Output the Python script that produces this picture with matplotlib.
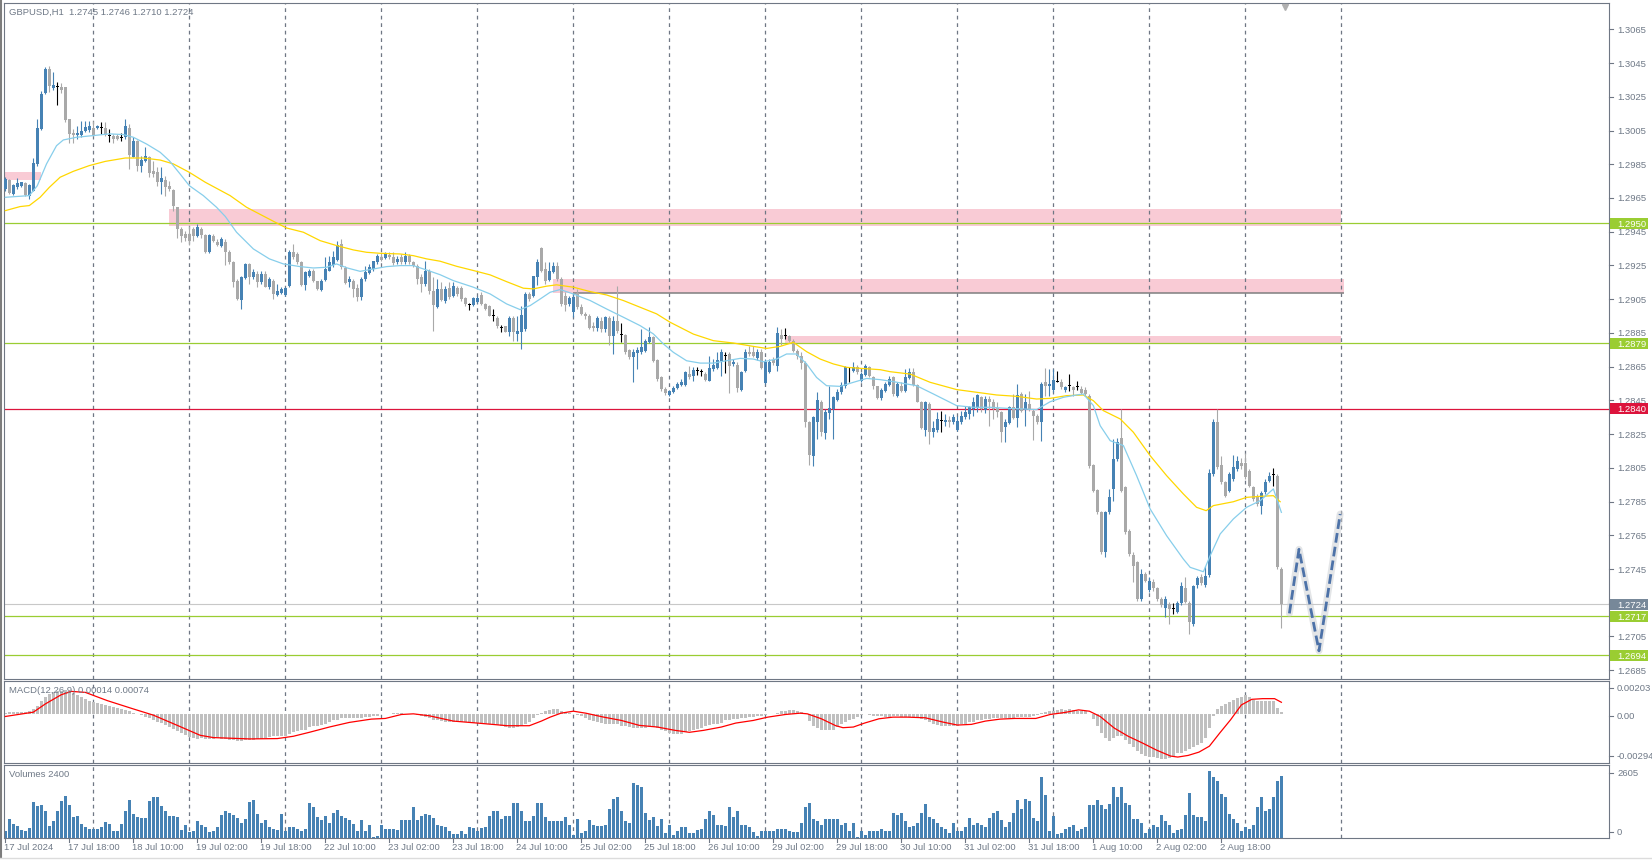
import matplotlib
matplotlib.use("Agg")
import matplotlib.pyplot as plt
import matplotlib.transforms as mtransforms
from matplotlib.patches import Rectangle
from matplotlib.lines import Line2D
import numpy as np

plt.rcParams['font.family'] = ['Liberation Sans', 'DejaVu Sans']

# GBPUSD H1, 17 Jul 2024 02:00 .. 5 Aug 2024 09:00 (320 bars).
opens = [
    1.29703, 1.29757, 1.29674, 1.29713, 1.29723, 1.29737, 1.29664, 1.29693, 1.29852, 1.30059,
    1.30271, 1.30415, 1.30302, 1.30306, 1.30306, 1.30306, 1.30119, 1.30037, 1.30026, 1.30026,
    1.30045, 1.30053, 1.30065, 1.30065, 1.30065, 1.30065, 1.30020, 1.30020, 1.30020, 1.30006,
    1.30010, 1.30065, 1.29895, 1.29990, 1.29840, 1.29868, 1.29891, 1.29812, 1.29802, 1.29747,
    1.29757, 1.29723, 1.29697, 1.29595, 1.29466, 1.29437, 1.29437, 1.29466, 1.29427, 1.29466,
    1.29433, 1.29328, 1.29427, 1.29387, 1.29368, 1.29387, 1.29328, 1.29269, 1.29156, 1.29045,
    1.29176, 1.29259, 1.29184, 1.29200, 1.29150, 1.29200, 1.29124, 1.29160, 1.29077, 1.29085,
    1.29077, 1.29130, 1.29328, 1.29318, 1.29269, 1.29136, 1.29190, 1.29219, 1.29156, 1.29105,
    1.29164, 1.29219, 1.29255, 1.29283, 1.29377, 1.29235, 1.29150, 1.29160, 1.29116, 1.29065,
    1.29170, 1.29205, 1.29229, 1.29269, 1.29302, 1.29295, 1.29312, 1.29302, 1.29269, 1.29298,
    1.29269, 1.29308, 1.29269, 1.29249, 1.29180, 1.29140, 1.29215, 1.29101, 1.29006, 1.29111,
    1.29037, 1.29116, 1.29067, 1.29115, 1.29115, 1.29055, 1.29016, 1.29016, 1.29036, 1.29075,
    1.29022, 1.29008, 1.28949, 1.28939, 1.28878, 1.28889, 1.28858, 1.28937, 1.28844, 1.28858,
    1.28874, 1.29081, 1.29067, 1.29180, 1.29352, 1.29229, 1.29166, 1.29214, 1.29249, 1.29170,
    1.29071, 1.29022, 1.28976, 1.29087, 1.29002, 1.28963, 1.28953, 1.28893, 1.28878, 1.28923,
    1.28874, 1.28937, 1.28834, 1.28923, 1.28838, 1.28838, 1.28751, 1.28706, 1.28731, 1.28739,
    1.28745, 1.28799, 1.28824, 1.28692, 1.28587, 1.28517, 1.28483, 1.28497, 1.28521, 1.28543,
    1.28541, 1.28606, 1.28592, 1.28626, 1.28620, 1.28606, 1.28567, 1.28636, 1.28642, 1.28685,
    1.28715, 1.28725, 1.28666, 1.28660, 1.28513, 1.28626, 1.28739, 1.28739, 1.28699, 1.28735,
    1.28553, 1.28620, 1.28691, 1.28656, 1.28837, 1.28830, 1.28830, 1.28804, 1.28745, 1.28715,
    1.28671, 1.28320, 1.28118, 1.28324, 1.28442, 1.28256, 1.28375, 1.28399, 1.28454, 1.28497,
    1.28533, 1.28640, 1.28626, 1.28646, 1.28567, 1.28600, 1.28646, 1.28586, 1.28533, 1.28462,
    1.28507, 1.28541, 1.28587, 1.28478, 1.28537, 1.28508, 1.28583, 1.28620, 1.28541, 1.28442,
    1.28276, 1.28429, 1.28264, 1.28276, 1.28330, 1.28320, 1.28335, 1.28324, 1.28276, 1.28320,
    1.28349, 1.28369, 1.28399, 1.28403, 1.28468, 1.28395, 1.28458, 1.28442, 1.28403, 1.28383,
    1.28290, 1.28316, 1.28409, 1.28347, 1.28488, 1.28395, 1.28429, 1.28389, 1.28355, 1.28320,
    1.28557, 1.28537, 1.28514, 1.28561, 1.28557, 1.28514, 1.28537, 1.28527, 1.28527, 1.28518,
    1.28514, 1.28478, 1.28067, 1.27920, 1.27786, 1.27549, 1.27786, 1.27925, 1.28102, 1.28225,
    1.27935, 1.27678, 1.27533, 1.27490, 1.27272, 1.27420, 1.27328, 1.27375, 1.27336, 1.27272,
    1.27221, 1.27243, 1.27213, 1.27197, 1.27249, 1.27336, 1.27249, 1.27124, 1.27355, 1.27401,
    1.27355, 1.27415, 1.28013, 1.28320, 1.28067, 1.27964, 1.27915, 1.27984, 1.28043, 1.28079,
    1.28079, 1.28033, 1.27935, 1.27885, 1.27826, 1.27905, 1.27974, 1.28008, 1.28004, 1.27450,
]
highs = [
    1.29773, 1.29763, 1.29733, 1.29769, 1.29747, 1.29743, 1.29733, 1.29885, 1.30119, 1.30283,
    1.30425, 1.30435, 1.30395, 1.30336, 1.30330, 1.30310, 1.30119, 1.30059, 1.30079, 1.30109,
    1.30109, 1.30109, 1.30109, 1.30085, 1.30101, 1.30099, 1.30059, 1.30030, 1.30030, 1.30033,
    1.30119, 1.30089, 1.30014, 1.29994, 1.29901, 1.29950, 1.29901, 1.29871, 1.29832, 1.29836,
    1.29782, 1.29753, 1.29703, 1.29595, 1.29476, 1.29456, 1.29486, 1.29476, 1.29496, 1.29480,
    1.29437, 1.29437, 1.29437, 1.29407, 1.29417, 1.29407, 1.29340, 1.29279, 1.29170, 1.29190,
    1.29265, 1.29265, 1.29229, 1.29219, 1.29219, 1.29219, 1.29180, 1.29170, 1.29140, 1.29120,
    1.29120, 1.29340, 1.29377, 1.29328, 1.29279, 1.29219, 1.29229, 1.29229, 1.29160, 1.29170,
    1.29302, 1.29308, 1.29338, 1.29397, 1.29407, 1.29245, 1.29190, 1.29170, 1.29140, 1.29180,
    1.29249, 1.29259, 1.29279, 1.29318, 1.29328, 1.29328, 1.29328, 1.29328, 1.29308, 1.29318,
    1.29328, 1.29318, 1.29279, 1.29259, 1.29200, 1.29279, 1.29229, 1.29180, 1.29170, 1.29150,
    1.29130, 1.29150, 1.29150, 1.29130, 1.29130, 1.29061, 1.29028, 1.29061, 1.29071, 1.29091,
    1.29028, 1.29016, 1.28992, 1.28949, 1.28897, 1.28893, 1.28949, 1.28949, 1.28953, 1.29008,
    1.29091, 1.29091, 1.29190, 1.29289, 1.29358, 1.29269, 1.29269, 1.29269, 1.29269, 1.29180,
    1.29095, 1.29071, 1.29081, 1.29111, 1.29022, 1.28973, 1.28963, 1.28913, 1.28953, 1.28943,
    1.28953, 1.28953, 1.28953, 1.29130, 1.28909, 1.28844, 1.28755, 1.28755, 1.28765, 1.28873,
    1.28815, 1.28884, 1.28834, 1.28696, 1.28597, 1.28527, 1.28513, 1.28537, 1.28557, 1.28577,
    1.28626, 1.28656, 1.28646, 1.28646, 1.28636, 1.28616, 1.28715, 1.28695, 1.28735, 1.28754,
    1.28739, 1.28735, 1.28695, 1.28676, 1.28626, 1.28754, 1.28774, 1.28774, 1.28754, 1.28754,
    1.28695, 1.28695, 1.28705, 1.28883, 1.28873, 1.28877, 1.28840, 1.28814, 1.28754, 1.28735,
    1.28685, 1.28330, 1.28359, 1.28497, 1.28454, 1.28399, 1.28537, 1.28478, 1.28517, 1.28557,
    1.28656, 1.28646, 1.28676, 1.28660, 1.28616, 1.28666, 1.28656, 1.28596, 1.28537, 1.28523,
    1.28557, 1.28596, 1.28596, 1.28557, 1.28557, 1.28636, 1.28640, 1.28640, 1.28547, 1.28448,
    1.28448, 1.28438, 1.28330, 1.28379, 1.28389, 1.28370, 1.28360, 1.28370, 1.28360, 1.28389,
    1.28419, 1.28419, 1.28468, 1.28488, 1.28478, 1.28478, 1.28478, 1.28458, 1.28438, 1.28389,
    1.28339, 1.28419, 1.28488, 1.28547, 1.28498, 1.28488, 1.28508, 1.28399, 1.28369, 1.28557,
    1.28640, 1.28636, 1.28636, 1.28626, 1.28577, 1.28537, 1.28606, 1.28537, 1.28567, 1.28537,
    1.28527, 1.28488, 1.28073, 1.27924, 1.27796, 1.27796, 1.27925, 1.28221, 1.28225, 1.28399,
    1.27945, 1.27688, 1.27549, 1.27500, 1.27450, 1.27430, 1.27401, 1.27391, 1.27346, 1.27282,
    1.27292, 1.27253, 1.27249, 1.27262, 1.27371, 1.27401, 1.27262, 1.27357, 1.27411, 1.27420,
    1.27470, 1.28043, 1.28340, 1.28399, 1.28122, 1.27974, 1.28024, 1.28126, 1.28122, 1.28106,
    1.28138, 1.28043, 1.27945, 1.27895, 1.27915, 1.27984, 1.28024, 1.28047, 1.28014, 1.27460,
]
lows = [
    1.29693, 1.29674, 1.29670, 1.29703, 1.29717, 1.29664, 1.29644, 1.29689, 1.29840, 1.30053,
    1.30267, 1.30277, 1.30290, 1.30203, 1.30271, 1.30099, 1.29974, 1.29974, 1.30000, 1.30010,
    1.30039, 1.30039, 1.30020, 1.30059, 1.30030, 1.30020, 1.29984, 1.29974, 1.29994, 1.29986,
    1.30000, 1.29822, 1.29891, 1.29812, 1.29802, 1.29862, 1.29773, 1.29773, 1.29723, 1.29674,
    1.29664, 1.29693, 1.29575, 1.29413, 1.29387, 1.29397, 1.29373, 1.29397, 1.29421, 1.29413,
    1.29322, 1.29326, 1.29387, 1.29368, 1.29361, 1.29255, 1.29259, 1.29120, 1.29045, 1.28992,
    1.29170, 1.29140, 1.29170, 1.29120, 1.29140, 1.29120, 1.29110, 1.29051, 1.29071, 1.29080,
    1.29071, 1.29120, 1.29290, 1.29259, 1.29130, 1.29105, 1.29180, 1.29150, 1.29105, 1.29100,
    1.29160, 1.29215, 1.29240, 1.29279, 1.29229, 1.29140, 1.29124, 1.29061, 1.29037, 1.29045,
    1.29160, 1.29200, 1.29215, 1.29259, 1.29275, 1.29290, 1.29290, 1.29255, 1.29259, 1.29259,
    1.29259, 1.29259, 1.29240, 1.29140, 1.29091, 1.29130, 1.29081, 1.28863, 1.28998, 1.29040,
    1.29030, 1.29050, 1.29061, 1.29071, 1.29040, 1.29012, 1.28988, 1.29012, 1.29030, 1.29016,
    1.28985, 1.28948, 1.28923, 1.28880, 1.28858, 1.28854, 1.28834, 1.28804, 1.28804, 1.28755,
    1.28864, 1.29040, 1.29061, 1.29134, 1.29209, 1.29140, 1.29160, 1.29205, 1.29160, 1.29012,
    1.28982, 1.29012, 1.28943, 1.28992, 1.28957, 1.28933, 1.28874, 1.28864, 1.28864, 1.28858,
    1.28858, 1.28779, 1.28725, 1.28850, 1.28799, 1.28725, 1.28696, 1.28557, 1.28636, 1.28726,
    1.28735, 1.28790, 1.28676, 1.28567, 1.28508, 1.28483, 1.28473, 1.28493, 1.28517, 1.28537,
    1.28537, 1.28576, 1.28567, 1.28600, 1.28592, 1.28567, 1.28563, 1.28626, 1.28636, 1.28595,
    1.28612, 1.28493, 1.28656, 1.28497, 1.28507, 1.28616, 1.28715, 1.28705, 1.28690, 1.28636,
    1.28547, 1.28612, 1.28660, 1.28626, 1.28778, 1.28814, 1.28794, 1.28735, 1.28695, 1.28636,
    1.28290, 1.28067, 1.28063, 1.28220, 1.28240, 1.28220, 1.28340, 1.28221, 1.28444, 1.28490,
    1.28523, 1.28557, 1.28620, 1.28606, 1.28557, 1.28596, 1.28586, 1.28518, 1.28458, 1.28454,
    1.28497, 1.28537, 1.28478, 1.28468, 1.28498, 1.28498, 1.28577, 1.28537, 1.28438, 1.28280,
    1.28241, 1.28191, 1.28231, 1.28260, 1.28264, 1.28300, 1.28290, 1.28310, 1.28270, 1.28310,
    1.28339, 1.28339, 1.28360, 1.28383, 1.28379, 1.28375, 1.28300, 1.28339, 1.28349, 1.28205,
    1.28205, 1.28310, 1.28339, 1.28290, 1.28379, 1.28296, 1.28389, 1.28217, 1.28310, 1.28211,
    1.28478, 1.28478, 1.28498, 1.28557, 1.28517, 1.28498, 1.28508, 1.28478, 1.28514, 1.28488,
    1.28478, 1.28050, 1.27905, 1.27776, 1.27539, 1.27519, 1.27776, 1.27855, 1.28092, 1.27905,
    1.27658, 1.27529, 1.27375, 1.27262, 1.27262, 1.27371, 1.27312, 1.27322, 1.27262, 1.27227,
    1.27164, 1.27124, 1.27183, 1.27187, 1.27237, 1.27247, 1.27065, 1.27114, 1.27340, 1.27355,
    1.27346, 1.27405, 1.28003, 1.28043, 1.27955, 1.27875, 1.27905, 1.27974, 1.28033, 1.28043,
    1.27984, 1.27935, 1.27855, 1.27826, 1.27776, 1.27895, 1.27964, 1.27940, 1.27450, 1.27100,
]
closes = [
    1.29763, 1.29678, 1.29729, 1.29737, 1.29743, 1.29670, 1.29727, 1.29856, 1.30065, 1.30267,
    1.30415, 1.30316, 1.30320, 1.30306, 1.30290, 1.30115, 1.30030, 1.30026, 1.30035, 1.30049,
    1.30069, 1.30079, 1.30026, 1.30079, 1.30065, 1.30026, 1.30020, 1.30000, 1.30000, 1.30006,
    1.30079, 1.29907, 1.29986, 1.29842, 1.29875, 1.29897, 1.29796, 1.29792, 1.29743, 1.29769,
    1.29717, 1.29703, 1.29604, 1.29466, 1.29427, 1.29413, 1.29397, 1.29427, 1.29480, 1.29433,
    1.29328, 1.29431, 1.29397, 1.29373, 1.29407, 1.29328, 1.29269, 1.29150, 1.29051, 1.29180,
    1.29259, 1.29184, 1.29209, 1.29150, 1.29200, 1.29124, 1.29170, 1.29081, 1.29101, 1.29111,
    1.29116, 1.29328, 1.29298, 1.29269, 1.29136, 1.29209, 1.29215, 1.29156, 1.29110, 1.29156,
    1.29229, 1.29269, 1.29302, 1.29374, 1.29239, 1.29144, 1.29170, 1.29110, 1.29065, 1.29170,
    1.29209, 1.29239, 1.29275, 1.29308, 1.29283, 1.29318, 1.29298, 1.29265, 1.29289, 1.29269,
    1.29308, 1.29269, 1.29249, 1.29170, 1.29140, 1.29219, 1.29101, 1.29018, 1.29111, 1.29045,
    1.29111, 1.29061, 1.29130, 1.29081, 1.29051, 1.29022, 1.29016, 1.29055, 1.29057, 1.29022,
    1.28992, 1.28953, 1.28949, 1.28889, 1.28878, 1.28858, 1.28937, 1.28858, 1.28864, 1.28957,
    1.29081, 1.29051, 1.29186, 1.29273, 1.29219, 1.29160, 1.29219, 1.29249, 1.29170, 1.29022,
    1.29016, 1.29055, 1.29061, 1.29002, 1.28963, 1.28949, 1.28878, 1.28878, 1.28937, 1.28874,
    1.28943, 1.28830, 1.28923, 1.28864, 1.28838, 1.28735, 1.28706, 1.28735, 1.28751, 1.28765,
    1.28804, 1.28824, 1.28686, 1.28577, 1.28518, 1.28493, 1.28503, 1.28521, 1.28547, 1.28557,
    1.28616, 1.28586, 1.28632, 1.28626, 1.28620, 1.28573, 1.28640, 1.28660, 1.28691, 1.28735,
    1.28715, 1.28656, 1.28679, 1.28521, 1.28620, 1.28739, 1.28725, 1.28715, 1.28735, 1.28640,
    1.28675, 1.28675, 1.28671, 1.28849, 1.28814, 1.28830, 1.28804, 1.28745, 1.28715, 1.28671,
    1.28320, 1.28126, 1.28349, 1.28454, 1.28264, 1.28379, 1.28403, 1.28468, 1.28501, 1.28541,
    1.28646, 1.28640, 1.28646, 1.28616, 1.28607, 1.28656, 1.28596, 1.28533, 1.28462, 1.28513,
    1.28547, 1.28577, 1.28487, 1.28547, 1.28508, 1.28587, 1.28616, 1.28541, 1.28442, 1.28284,
    1.28442, 1.28264, 1.28284, 1.28339, 1.28330, 1.28335, 1.28320, 1.28349, 1.28330, 1.28355,
    1.28383, 1.28409, 1.28442, 1.28482, 1.28399, 1.28458, 1.28442, 1.28399, 1.28383, 1.28264,
    1.28324, 1.28409, 1.28347, 1.28482, 1.28389, 1.28442, 1.28395, 1.28355, 1.28324, 1.28547,
    1.28537, 1.28547, 1.28573, 1.28561, 1.28527, 1.28527, 1.28537, 1.28514, 1.28527, 1.28494,
    1.28488, 1.28059, 1.27914, 1.27786, 1.27549, 1.27786, 1.27875, 1.28102, 1.28201, 1.27915,
    1.27668, 1.27539, 1.27470, 1.27272, 1.27420, 1.27381, 1.27381, 1.27336, 1.27272, 1.27237,
    1.27272, 1.27213, 1.27213, 1.27249, 1.27347, 1.27257, 1.27138, 1.27347, 1.27395, 1.27368,
    1.27407, 1.28019, 1.28320, 1.28053, 1.27964, 1.27885, 1.28014, 1.28053, 1.28093, 1.28059,
    1.27994, 1.27945, 1.27865, 1.27836, 1.27901, 1.27968, 1.28004, 1.28008, 1.27460, 1.27240,
]
volumes = [
    280, 735, 540, 477, 310, 284, 387, 1393, 1238, 1264,
    1032, 464, 671, 1058, 1445, 1625, 1290, 826, 851, 542,
    439, 348, 361, 335, 413, 619, 542, 284, 284, 542,
    1032, 1470, 929, 826, 774, 774, 1445, 1574, 1574, 1238,
    1032, 851, 851, 826, 310, 516, 232, 284, 671, 516,
    439, 219, 284, 413, 877, 1032, 980, 877, 774, 593,
    722, 1393, 1470, 929, 593, 697, 413, 335, 310, 929,
    258, 413, 439, 361, 284, 335, 1367, 1187, 826, 697,
    851, 593, 980, 1084, 851, 774, 697, 542, 284, 697,
    258, 516, 52, 77, 490, 361, 335, 361, 310, 697,
    697, 697, 1187, 697, 851, 929, 903, 774, 490, 464,
    413, 258, 155, 155, 284, 155, 413, 387, 258, 387,
    439, 851, 1058, 1032, 722, 851, 851, 1341, 1367, 1058,
    671, 671, 851, 1367, 1341, 800, 671, 671, 645, 645,
    826, 490, 103, 748, 181, 258, 697, 516, 464, 464,
    516, 1109, 1496, 1574, 1032, 671, 568, 2116, 2038, 1987,
    955, 697, 826, 464, 748, 206, 490, 129, 258, 439,
    439, 206, 181, 310, 335, 748, 1058, 877, 490, 516,
    464, 1213, 800, 1058, 516, 490, 413, 232, 77, 258,
    258, 258, 258, 361, 361, 361, 258, 232, 232, 568,
    1213, 1341, 748, 671, 490, 722, 722, 748, 748, 516,
    568, 258, 568, 52, 284, 103, 284, 258, 258, 361,
    284, 284, 955, 877, 980, 671, 413, 464, 568, 980,
    1315, 826, 722, 593, 413, 335, 181, 568, 258, 258,
    413, 774, 516, 568, 490, 439, 774, 955, 1058, 697,
    439, 619, 980, 1470, 1135, 1522, 1445, 774, 671, 2374,
    1677, 284, 851, 155, 181, 361, 413, 516, 284, 335,
    413, 1264, 1264, 1470, 1290, 1109, 1316, 1961, 1600, 1961,
    1342, 1290, 722, 748, 568, 206, 335, 490, 413, 877,
    671, 490, 181, 310, 361, 903, 1729, 903, 800, 800,
    671, 2605, 2348, 2193, 1703, 1574, 929, 748, 568, 258,
    413, 361, 516, 1187, 1574, 1032, 1109, 1574, 2193, 2400,
]
# MACD(12,26,9) main line, in units of 1e-5
macd_main_e5 = [
    12, 14, 14, 14, 16, 16, 20, 32, 52, 80,
    108, 124, 134, 140, 144, 146, 144, 132, 116, 104,
    92, 84, 76, 68, 62, 56, 50, 44, 38, 32,
    28, 20, 12, 4, -6, -16, -24, -34, -44, -54,
    -64, -74, -86, -100, -114, -126, -136, -142, -146, -144,
    -146, -148, -146, -142, -146, -148, -152, -156, -160, -160,
    -156, -154, -152, -148, -148, -144, -136, -132, -132, -132,
    -128, -116, -108, -100, -96, -92, -76, -72, -68, -64,
    -56, -48, -36, -32, -24, -24, -24, -24, -24, -20,
    -16, -16, -12, -8, 0, 4, 4, 8, 8, 8,
    4, 4, 0, -4, -8, -16, -24, -32, -36, -40,
    -44, -44, -48, -48, -48, -48, -48, -52, -52, -52,
    -56, -60, -64, -64, -68, -76, -80, -80, -76, -68,
    -56, -44, -24, -4, 8, 20, 28, 34, 34, 20,
    14, 8, 4, -4, -12, -20, -32, -40, -48, -52,
    -56, -56, -60, -60, -68, -72, -76, -80, -84, -84,
    -80, -76, -76, -80, -92, -100, -112, -120, -120, -116,
    -108, -100, -96, -88, -84, -72, -64, -60, -56, -52,
    -36, -32, -28, -28, -24, -20, -16, -16, -12, -8,
    -4, 0, 4, 8, 20, 24, 28, 28, 24, 16,
    0, -40, -68, -80, -92, -96, -96, -92, -76, -60,
    -48, -36, -28, -16, -4, 0, -4, -8, -12, -12,
    -16, -16, -12, -12, -16, -16, -16, -16, -20, -28,
    -36, -44, -60, -64, -68, -72, -72, -72, -68, -60,
    -56, -48, -44, -36, -32, -28, -28, -24, -20, -20,
    -20, -20, -20, -16, -16, -16, -16, -8, -4, 8,
    16, 20, 24, 28, 32, 28, 32, 28, 24, 20,
    20, 0, -28, -68, -112, -144, -160, -144, -132, -132,
    -152, -176, -200, -224, -240, -252, -256, -260, -264, -268,
    -268, -264, -252, -236, -232, -224, -208, -196, -184, -172,
    -144, -84, -8, 32, 52, 64, 76, 88, 100, 108,
    116, 108, 88, 80, 80, 80, 80, 80, 40, 14,
]
# MACD signal line, read at these bars (units of 1e-5)
signal_bars = [0, 7, 10, 14, 16.5, 20, 25.5, 31.7, 37, 43, 48.7, 52, 61, 68, 72, 76, 81, 86, 91.5, 95,
               99, 102, 106, 112, 118, 125.5, 131, 134, 136.2, 138.9, 142, 145.1, 149.6, 154, 158.5,
               163, 167.4, 171, 174.6, 179, 182.6, 187, 190.6, 195, 198.7, 200.5, 204, 207.6, 209.4,
               212, 214.8, 218.4, 221.9, 225.5, 230, 234.4, 238, 241.5, 245, 248.7, 252.3, 257.6,
               261.2, 264.8, 268.3, 271, 273.7, 277.2, 280.7, 284.2, 287.8, 291.3, 293.1, 295.7,
               298.4, 301, 303.6, 306.3, 309, 311.6, 314.3, 317.3, 319]
signal_e5 = [-12, 14, 64, 120, 140, 134, 84, 36, -4, -66, -126, -140, -148, -146, -132, -108, -76,
             -48, -28, -24, 0, 4, -8, -40, -52, -68, -68, -40, -16, 8, 20, 8, -16, -36, -66, -76,
             -96, -108, -96, -76, -52, -36, -16, 0, 8, 4, -26, -68, -80, -76, -52, -26, -16, -16,
             -20, -46, -64, -60, -40, -28, -24, -24, 0, 12, 28, 20, -12, -82, -132, -172, -216,
             -252, -258, -248, -228, -192, -112, -32, 58, 92, 96, 96, 74]
# moving averages (bar, price)
fast_ma_bars = [0, 6, 8, 10.3, 12.8, 14.5, 17.8, 22, 26, 29.5, 32, 35.3, 38.7, 41, 43.7, 46, 49.5,
                52.8, 55, 57.8, 62, 66, 69.5, 73.7, 77, 80.3, 82.8, 85.5, 88.7, 92, 95.3, 98.7,
                102, 105.3, 108.7, 112, 117, 121.2, 125.3, 128.7, 131.2, 133.7, 136.2, 138.7, 142,
                146.2, 150.3, 154.5, 158.7, 162, 164.5, 167, 170.3, 173.7, 177, 180.3, 183.7, 187,
                189.5, 192.8, 195.3, 197.8, 200.3, 202.8, 205.3, 208.7, 212, 215.3, 218.7, 222,
                227.8, 232, 237.8, 242, 246.2, 250.3, 254.5, 257.8, 261.2, 264.5, 267.8, 269.5,
                272, 273.7, 276.2, 279.5, 282.8, 286.2, 290.3, 294.5, 296.2, 299.5, 301.2, 303.7,
                307, 310.3, 313.7, 317, 319]
fast_ma = [1.29654, 1.29664, 1.29723, 1.29852, 1.29960, 1.29994, 1.30010, 1.30020, 1.30030, 1.30026,
           1.30010, 1.29970, 1.29921, 1.29871, 1.29792, 1.29723, 1.29664, 1.29595, 1.29540, 1.29447,
           1.29348, 1.29289, 1.29259, 1.29243, 1.29235, 1.29239, 1.29259, 1.29235, 1.29215, 1.29229,
           1.29243, 1.29249, 1.29249, 1.29223, 1.29195, 1.29160, 1.29121, 1.29081, 1.29022, 1.28988,
           1.29012, 1.29051, 1.29091, 1.29107, 1.29081, 1.29042, 1.28992, 1.28943, 1.28893, 1.28844,
           1.28785, 1.28735, 1.28685, 1.28671, 1.28671, 1.28685, 1.28699, 1.28695, 1.28679, 1.28695,
           1.28725, 1.28725, 1.28666, 1.28586, 1.28537, 1.28533, 1.28557, 1.28580, 1.28573, 1.28561,
           1.28537, 1.28488, 1.28419, 1.28409, 1.28409, 1.28403, 1.28399, 1.28395, 1.28442, 1.28468,
           1.28482, 1.28488, 1.28419, 1.28300, 1.28211, 1.28182, 1.28004, 1.27806, 1.27648, 1.27509,
           1.27460, 1.27434, 1.27529, 1.27658, 1.27747, 1.27816, 1.27855, 1.27925, 1.27786]
slow_ma_bars = [0, 3.7, 6, 8.7, 11, 13.7, 17, 21, 25, 30, 34.5, 38.7, 42, 46, 50, 56.2, 60.3, 67,
                70.3, 74.5, 78.7, 82.8, 87, 90.3, 93.7, 98.7, 102, 105.3, 108.7, 112.8, 117, 121.2,
                125.3, 129.5, 132, 135.3, 137.8, 142, 146.2, 150.3, 154.5, 158.7, 162.8, 166.2, 172,
                177, 182, 187, 190.3, 193.7, 197, 200.3, 203.7, 207, 210.3, 213.7, 218.7, 221.2,
                226.2, 231.2, 237.8, 242.8, 247.8, 252.8, 257.8, 261.2, 265.3, 269.5, 272, 274.5,
                278.7, 282, 286.2, 290.3, 294.5, 297.8, 300.2, 302, 307, 310.3, 313.7, 317, 318.7]
slow_ma = [1.29575, 1.29599, 1.29605, 1.29654, 1.29713, 1.29773, 1.29808, 1.29842, 1.29867, 1.29887,
           1.29887, 1.29875, 1.29852, 1.29802, 1.29743, 1.29664, 1.29595, 1.29512, 1.29472, 1.29447,
           1.29397, 1.29368, 1.29342, 1.29328, 1.29322, 1.29318, 1.29308, 1.29289, 1.29275, 1.29245,
           1.29220, 1.29194, 1.29154, 1.29115, 1.29111, 1.29127, 1.29135, 1.29121, 1.29095, 1.29075,
           1.29042, 1.29002, 1.28963, 1.28913, 1.28843, 1.28804, 1.28790, 1.28770, 1.28758, 1.28770,
           1.28794, 1.28739, 1.28695, 1.28666, 1.28646, 1.28640, 1.28632, 1.28620, 1.28606, 1.28557,
           1.28514, 1.28498, 1.28482, 1.28474, 1.28458, 1.28462, 1.28478, 1.28482, 1.28448, 1.28389,
           1.28340, 1.28261, 1.28122, 1.28004, 1.27895, 1.27816, 1.27796, 1.27826, 1.27849, 1.27875,
           1.27881, 1.27885, 1.27849]

# day separators (bar index of 00:00) and time-axis labels
day_starts = [22, 46, 70, 94, 118, 142, 166, 190, 214, 238, 262, 286, 310, 334]
label_bars = [0, 16, 32, 48, 64, 80, 96, 112, 128, 144, 160, 176, 192, 208, 224, 240, 256, 272, 288, 304]
label_texts = ["17 Jul 2024", "17 Jul 18:00", "18 Jul 10:00", "19 Jul 02:00", "19 Jul 18:00",
               "22 Jul 10:00", "23 Jul 02:00", "23 Jul 18:00", "24 Jul 10:00", "25 Jul 02:00",
               "25 Jul 18:00", "26 Jul 10:00", "29 Jul 02:00", "29 Jul 18:00", "30 Jul 10:00",
               "31 Jul 02:00", "31 Jul 18:00", "1 Aug 10:00", "2 Aug 02:00", "2 Aug 18:00"]

# drawn objects
level_prices = [1.2950, 1.2879, 1.2840, 1.2717, 1.2694]
level_colors = ['#9acd32', '#9acd32', '#dc143c', '#9acd32', '#9acd32']
zone_start = [-1.5, 40.9, 136.8, 194.9]
zone_end = [8.9, 334.0, 334.6, 334.0]
zone_low = [1.29757, 1.29486, 1.29087, 1.28784]
zone_high = [1.29806, 1.29585, 1.29170, 1.28832]
proj_bars = [321.0, 323.4, 328.4, 333.7]
proj_prices = [1.27187, 1.27567, 1.26965, 1.27776]

BULL = '#4682b4'
BEAR = '#a9a9a9'
TXT = '#6f7987'
FRAME = '#6f7784'
PINK = '#f9cbd5'
FS = 6.8

W, H = 1652, 862
LEFT, RIGHT = 4, 1609
fig = plt.figure(figsize=(W / 100, H / 100), dpi=100)


def pane(top, bottom):
    return fig.add_axes([LEFT / W, 1 - bottom / H, (RIGHT - LEFT) / W, (bottom - top) / H])


def fy(px):
    return 1 - px / H


ax = pane(4, 680)
axm = pane(682, 764)
axv = pane(766, 839)

x = np.arange(len(closes))
for a in (ax, axm, axv):
    a.set_xlim(-0.33, 400.9)
    a.set_xticks([])
    a.set_yticks([])
    for s in a.spines.values():
        s.set_color(FRAME)
        s.set_linewidth(0.8)
    for d in day_starts:
        a.axvline(d, color=FRAME, lw=0.9, ls=(0, (3, 3)), zorder=1.5)

ax.set_ylim(1.26798, 1.30806)
axm.set_ylim(-0.00294, 0.00203)
axv.set_ylim(0, 2826)

# zones and levels
for b0, b1, lo, hi in zip(zone_start, zone_end, zone_low, zone_high):
    ax.add_patch(Rectangle((b0, lo), b1 - b0, hi - lo, facecolor=PINK, edgecolor='none', zorder=1))
ax.hlines(zone_low[2], 141.9, zone_end[2], color='#7f7f7f', lw=1.1, zorder=2)
for p, c in zip(level_prices, level_colors):
    ax.axhline(p, color=c, lw=0.9, zorder=2)
ax.axhline(closes[-1], color='#c8c8c8', lw=0.8, zorder=2)

# candles
o = np.array(opens)
h = np.array(highs)
l = np.array(lows)
c = np.array(closes)
cols = np.where(c > o, BULL, np.where(c < o, BEAR, '#000000'))
ax.vlines(x, l, h, colors=cols, lw=0.8, zorder=3)
ax.bar(x, np.maximum(np.abs(c - o), 0.00006), 0.72, bottom=np.minimum(o, c),
       color=cols, linewidth=0, zorder=3.1)

# moving averages
ax.plot(slow_ma_bars, slow_ma, color='#ffd700', lw=0.9, zorder=4)
ax.plot(fast_ma_bars, fast_ma, color='#87ceeb', lw=0.9, zorder=4)

# projected path
ax.plot(proj_bars, proj_prices, color='#c9ccd1', lw=5, alpha=0.5, zorder=4.5, solid_capstyle='round')
ax.plot(proj_bars, proj_prices, color='#4d72a8', lw=2.0, ls=(0, (3.5, 1.5)), zorder=5)

# chart shift marker
ax.plot([320], [1.30806 - 4 / 16863], marker='v', ms=4.5, color='#b0b0b0', clip_on=False, zorder=6)

# MACD
axm.bar(x, np.array(macd_main_e5) * 1e-5, 0.72, color='#c0c0c0', linewidth=0, zorder=2)
axm.plot(signal_bars, np.array(signal_e5) * 1e-5, color='#ff0000', lw=0.9, zorder=3)

# volumes
axv.bar(x, volumes, 0.72, color=BULL, linewidth=0, zorder=2)

# right-hand scales
bp = mtransforms.blended_transform_factory(fig.transFigure, ax.transData)
xt0, xt1, xl = RIGHT / W, (RIGHT + 4) / W, 1617 / W

price_ticks = np.round(np.arange(1.2685, 1.3066, 0.002), 4)
for p in price_ticks:
    fig.add_artist(Line2D([xt0, xt1], [p, p], transform=bp, color=FRAME, lw=0.8))
    fig.text(xl, p, f"{p:.4f}", transform=bp, fontsize=FS, color=TXT, va='center', ha='left')

hh = 5.5 / 16863
tags = list(zip(level_prices, level_colors)) + [(closes[-1], '#778899')]
for p, col in tags:
    fig.add_artist(Rectangle((1610 / W, p - hh), 38 / W, 2 * hh, transform=bp,
                             facecolor=col, edgecolor='none', zorder=5))
    fig.text(xl, p, f"{p:.4f}", transform=bp, fontsize=FS, color='white',
             va='center', ha='left', zorder=6)

# indicator scales: labels sit at the pane edges as in the terminal
side_labels = [(689, "%.5f" % axm.get_ylim()[1]), (716.5, "0.00"), (757, "%.5f" % axm.get_ylim()[0]),
               (773.5, str(max(volumes))), (832.5, "0")]
for ypx, txt in side_labels:
    fig.add_artist(Line2D([xt0, xt1], [fy(ypx), fy(ypx)], transform=fig.transFigure, color=FRAME, lw=0.8))
    fig.text(xl, fy(ypx), txt, fontsize=FS, color=TXT, va='center', ha='left')

# time axis
bt = mtransforms.blended_transform_factory(axv.transData, fig.transFigure)
for b, txt in zip(label_bars, label_texts):
    fig.add_artist(Line2D([b, b], [fy(839), fy(843)], transform=bt, color=FRAME, lw=0.8))
    fig.text(b - 0.4, fy(848), txt, transform=bt, fontsize=FS, color=TXT, va='center', ha='left')

# pane captions
fig.text(9 / W, fy(12.5),
         "GBPUSD,H1  %.4f %.4f %.4f %.4f" % (opens[-1], highs[-1], lows[-1], closes[-1]),
         fontsize=FS, color=TXT, va='center', ha='left')
fig.text(9 / W, fy(691), "MACD(12,26,9) %.5f %.5f" % (macd_main_e5[-1] * 1e-5, signal_e5[-1] * 1e-5),
         fontsize=FS, color=TXT, va='center', ha='left')
fig.text(9 / W, fy(775), "Volumes %d" % volumes[-1], fontsize=FS, color=TXT, va='center', ha='left')

# window edges
fig.add_artist(Line2D([1 / W, 1 / W], [fy(858), 1], transform=fig.transFigure, color='#7d7d7d', lw=1.5))
fig.add_artist(Line2D([0, 1], [fy(859), fy(859)], transform=fig.transFigure, color='#dcdcdc', lw=1.0))

fig.savefig("out.png", dpi=100, facecolor='white')
